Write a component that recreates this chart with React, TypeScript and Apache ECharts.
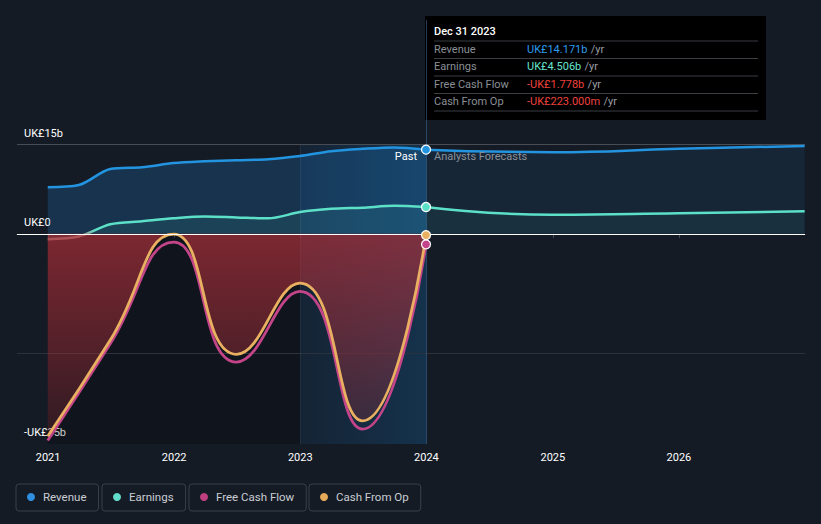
import React, { useEffect, useRef } from "react";
import * as echarts from "echarts";

// ---- data (values in UK£ billions) ----
const pastDates = [
  "2020-12-31", "2021-03-31", "2021-06-30", "2021-09-30", "2021-12-31",
  "2022-03-31", "2022-06-30", "2022-09-30", "2022-12-31",
  "2023-03-31", "2023-06-30", "2023-09-30", "2023-12-31",
];
const cashDates = [
  "2020-12-31", "2021-06-30", "2021-12-31", "2022-06-30", "2022-12-31", "2023-06-30", "2023-12-31",
];
const forecastDates = ["2023-12-31", "2024-12-31", "2025-12-31", "2026-12-31"];

const revenuePast = [7.85, 8.2, 10.9, 11.2, 11.9, 12.2, 12.4, 12.55, 13.1, 13.9, 14.3, 14.55, 14.171];
const revenueForecast = [14.171, 13.75, 14.3, 14.8];
const earningsPast = [-0.9, -0.45, 1.6, 2.1, 2.6, 2.9, 2.75, 2.6, 3.65, 4.2, 4.4, 4.7, 4.506];
const earningsForecast = [4.506, 3.2, 3.45, 3.8];
const fcfPast = [-34.8, -18.5, -1.4, -21.6, -9.7, -32.9, -1.778];
const cfoPast = [-34.1, -17.9, -0.05, -20.3, -8.3, -31.5, -0.223];

const yTickValues = [15, 0];
const yGridExtra = -20.2;
const yMin = -35.4;
const yMax = 36;
const xMin = "2020-10-03";
const xMax = "2027-01-01";
const pastStart = "2020-12-31";
const lastYearStart = "2023-01-01";
const nowDate = "2023-12-31";
const tooltipDate = "Dec 31 2023";

const C = {
  bg: "#151b25",
  revenue: "#2394e0",
  earnings: "#5ce0c8",
  earningsNeg: "#a8968f",
  fcf: "#c4448a",
  cfo: "#e8b060",
  legRevenue: "#2f8fe0",
  legEarnings: "#62dccb",
  legFcf: "#c0407f",
  legCfo: "#e5a95a",
};

const zip = (d: string[], v: number[]) => d.map((x, i) => [x, v[i]]);

const fmtMoney = (v: number) => {
  const a = Math.abs(v);
  const s = a >= 1 ? a.toFixed(3) + "b" : (a * 1000).toFixed(3) + "m";
  return (v < 0 ? "-" : "") + "UK£" + s;
};

const fmtAxis = (v: number) => {
  const r = Math.round(v);
  if (r === 0) return "UK£0";
  return (r < 0 ? "-" : "") + "UK£" + Math.abs(r) + "b";
};

export default function App() {
  const ref = useRef<HTMLDivElement>(null);

  useEffect(() => {
    if (!ref.current) return;
    const chart = echarts.init(ref.current, null, { renderer: "svg" });
    const font = "Roboto, 'Noto Sans', sans-serif";
    const last = (a: number[]) => a[a.length - 1];

    const legendBase = {
      top: 484,
      icon: "circle",
      itemWidth: 8,
      itemHeight: 8,
      borderColor: "#3a3f48",
      borderWidth: 1,
      borderRadius: 3,
      padding: [7, 12, 8, 11],
      selectedMode: false,
      textStyle: { color: "#c9cdd3", fontSize: 11.5, fontFamily: font, padding: [0, 0, 0, 3] },
    };

    const dot = (name: string, date: string, v: number, color: string) => ({
      type: "scatter",
      name,
      data: [[date, v]],
      symbolSize: 9,
      z: 10,
      silent: true,
      itemStyle: { color, borderColor: "#ffffff", borderWidth: 1.2, opacity: 1 },
    });

    const rows = [
      { label: "Revenue", value: last(revenuePast), color: "#2d9cef" },
      { label: "Earnings", value: last(earningsPast), color: "#66e3cc" },
      { label: "Free Cash Flow", value: last(fcfPast), color: "#f0413c" },
      { label: "Cash From Op", value: last(cfoPast), color: "#f0413c" },
    ];
    const rowY = [33, 50.5, 68, 85.5];
    const sepY = [25, 42.5, 60, 77.5, 95];

    const tooltipChildren: any[] = [
      { type: "rect", shape: { x: 0, y: 0, width: 341, height: 104 }, style: { fill: "#000000" } },
      {
        type: "text", x: 9, y: 15,
        style: { text: tooltipDate, fill: "#ffffff", font: `500 11px ${font}`, verticalAlign: "middle" },
      },
    ];
    sepY.forEach((y) =>
      tooltipChildren.push({
        type: "line", shape: { x1: 9, y1: y, x2: 333, y2: y },
        style: { stroke: "#3a3d42", lineWidth: 1 },
      })
    );
    rows.forEach((r, i) => {
      tooltipChildren.push({
        type: "text", x: 9, y: rowY[i],
        style: { text: r.label, fill: "#8a8f96", font: `11px ${font}`, verticalAlign: "middle" },
      });
      tooltipChildren.push({
        type: "text", x: 102, y: rowY[i],
        style: {
          text: `{v|${fmtMoney(r.value)}} {u|/yr}`,
          verticalAlign: "middle",
          rich: {
            v: { fill: r.color, font: `11px ${font}` },
            u: { fill: "#9a9ea5", font: `11px ${font}` },
          },
        },
      });
    });

    const option: any = {
      animation: false,
      backgroundColor: C.bg,
      textStyle: { fontFamily: font },
      grid: { left: 17, right: 16, top: 20, bottom: 80 },
      xAxis: {
        type: "time",
        min: xMin,
        max: xMax,
        splitNumber: 6,
        axisLine: { lineStyle: { color: "#4c525b", width: 1 } },
        axisTick: { show: true, length: 4, lineStyle: { color: "#4c525b" } },
        axisLabel: { color: "#ffffff", fontSize: 11, fontFamily: font, margin: 8, formatter: "{yyyy}" },
        splitLine: { show: false },
      },
      yAxis: {
        type: "value",
        min: yMin,
        max: yMax,
        axisLine: { show: false },
        axisTick: { show: false, customValues: [...yTickValues, yMin] },
        splitLine: { show: false },
        axisLabel: {
          customValues: [...yTickValues, yMin],
          inside: true,
          margin: 7,
          color: "#ffffff",
          fontSize: 11,
          fontFamily: font,
          verticalAlign: "bottom",
          padding: [0, 0, 6, 0],
          formatter: (v: number) => fmtAxis(v),
        },
      },
      legend: [
        { ...legendBase, left: 16, data: [{ name: "Revenue", itemStyle: { color: C.legRevenue } }] },
        { ...legendBase, left: 102, data: [{ name: "Earnings", itemStyle: { color: C.legEarnings } }] },
        { ...legendBase, left: 189, data: [{ name: "Free Cash Flow", itemStyle: { color: C.legFcf } }] },
        { ...legendBase, left: 309, data: [{ name: "Cash From Op", itemStyle: { color: C.legCfo } }] },
      ],
      graphic: [
        {
          type: "text", x: 417, y: 156,
          style: { text: "Past", fill: "#ffffff", font: `11px ${font}`, align: "right", verticalAlign: "middle" },
          z: 20,
        },
        {
          type: "text", x: 434, y: 156,
          style: { text: "Analysts Forecasts", fill: "#8b9099", font: `11px ${font}`, verticalAlign: "middle" },
          z: 20,
        },
        { type: "group", x: 425, y: 16, z: 100, children: tooltipChildren },
      ],
      series: [
        {
          type: "line",
          name: "Revenue",
          data: zip(pastDates, revenuePast),
          smooth: 0.3,
          showSymbol: false,
          lineStyle: { color: C.revenue, width: 2.5 },
          itemStyle: { color: C.revenue },
          areaStyle: { color: "rgba(33,150,243,0.2)", origin: "auto", opacity: 1 },
          z: 3,
          markArea: {
            silent: true,
            z: 1,
            data: [
              [
                { xAxis: pastStart, yAxis: 0, itemStyle: { color: "rgba(0,0,0,0.2)" } },
                { xAxis: lastYearStart, yAxis: yMin },
              ],
              [
                {
                  xAxis: lastYearStart, yAxis: 15,
                  itemStyle: {
                    color: {
                      type: "linear", x: 0, y: 0, x2: 1, y2: 0,
                      colorStops: [
                        { offset: 0, color: "rgba(20,90,150,0.14)" },
                        { offset: 1, color: "rgba(20,100,160,0.32)" },
                      ],
                    },
                  },
                },
                { xAxis: nowDate, yAxis: yMin },
              ],
            ],
          },
          markLine: {
            silent: true,
            symbol: ["none", "none"],
            label: { show: false },
            z: 2,
            data: [
              { yAxis: 15, lineStyle: { color: "#474c55", width: 1, type: "solid" } },
              { yAxis: yGridExtra, lineStyle: { color: "#2c323c", width: 1, type: "solid" } },
              [
                { coord: [lastYearStart, 15], lineStyle: { color: "rgba(90,110,130,0.22)", width: 1, type: "solid" } },
                { coord: [lastYearStart, yMin] },
              ],
              { xAxis: nowDate, lineStyle: { color: "rgba(60,110,160,0.55)", width: 1, type: "solid" } },
            ],
          },
        },
        {
          type: "line",
          name: "Revenue",
          data: zip(forecastDates, revenueForecast),
          smooth: 0.5,
          showSymbol: false,
          lineStyle: { color: C.revenue, width: 2.5 },
          itemStyle: { color: C.revenue },
          areaStyle: { color: "rgba(33,150,243,0.09)", opacity: 1 },
          z: 3,
        },
        {
          type: "line",
          name: "Earnings",
          data: zip(pastDates, earningsPast),
          smooth: 0.3,
          showSymbol: false,
          lineStyle: {
            width: 2.5,
            color: {
              type: "linear", x: 0, y: 0, x2: 1, y2: 0,
              colorStops: [
                { offset: 0, color: C.earningsNeg },
                { offset: 0.085, color: C.earningsNeg },
                { offset: 0.13, color: C.earnings },
                { offset: 1, color: C.earnings },
              ],
            },
          },
          itemStyle: { color: C.earnings },
          areaStyle: { color: "rgba(92,224,200,0.09)", opacity: 1 },
          z: 4,
        },
        {
          type: "line",
          name: "Earnings",
          data: zip(forecastDates, earningsForecast),
          smooth: 0.5,
          showSymbol: false,
          lineStyle: { color: C.earnings, width: 2.5 },
          itemStyle: { color: C.earnings },
          areaStyle: { color: "rgba(92,224,200,0.06)", opacity: 1 },
          z: 4,
        },
        {
          type: "line",
          name: "Free Cash Flow",
          data: zip(cashDates, fcfPast),
          smooth: 0.5,
          showSymbol: false,
          lineStyle: { color: C.fcf, width: 2.8 },
          itemStyle: { color: C.fcf },
          z: 5,
        },
        {
          type: "line",
          name: "Cash From Op",
          data: zip(cashDates, cfoPast),
          smooth: 0.5,
          showSymbol: false,
          lineStyle: { color: C.cfo, width: 2.8 },
          itemStyle: { color: C.cfo },
          areaStyle: {
            origin: "auto",
            opacity: 1,
            color: {
              type: "linear", x: 0, y: 0, x2: 0, y2: 1,
              colorStops: [
                { offset: 0, color: "rgba(175,48,58,0.68)" },
                { offset: 0.5, color: "rgba(175,48,58,0.45)" },
                { offset: 1, color: "rgba(175,48,58,0.2)" },
              ],
            },
          },
          z: 6,
          markLine: {
            silent: true,
            symbol: ["none", "none"],
            label: { show: false },
            z: 7,
            data: [{ yAxis: 0, lineStyle: { color: "#ffffff", width: 1, type: "solid" } }],
          },
        },
        dot("revDot", nowDate, last(revenuePast), C.revenue),
        dot("earnDot", nowDate, last(earningsPast), C.earnings),
        dot("fcfDot", nowDate, last(fcfPast), C.fcf),
        dot("cfoDot", nowDate, last(cfoPast), C.cfo),
      ],
    };

    chart.setOption(option);
    return () => chart.dispose();
  }, []);

  return (
    <div
      ref={ref}
      style={{ position: "fixed", left: 0, top: 0, width: 821, height: 524, background: C.bg }}
    />
  );
}
